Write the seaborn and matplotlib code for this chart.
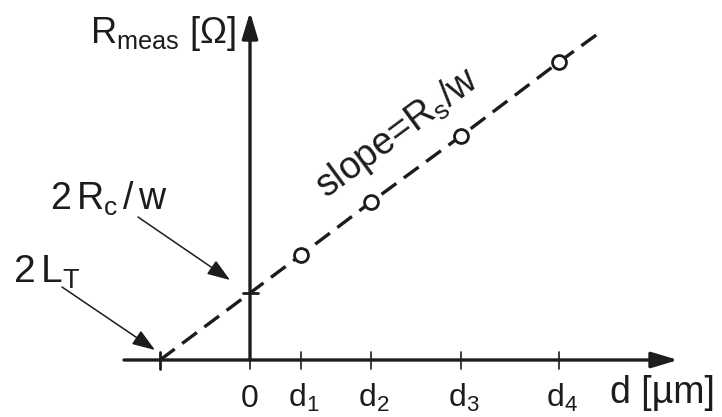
import matplotlib
matplotlib.use("Agg")
import matplotlib.pyplot as plt
import seaborn as sns

# ---- data (arbitrary units) ----
d_pos = [1.02, 2.42, 4.22, 6.18]          # d1..d4
R_meas = [2.1, 3.16, 4.48, 5.96]          # measured resistances
d_labels = ["$d_1$", "$d_2$", "$d_3$", "$d_4$"]
LT2_x = -1.8                               # x-intercept (2 L_T)
Rc2_y = 1.34                               # y-intercept (2 Rc / w)
line_end_x = 6.98
line_end_y = 6.54

sns.set_style("white")
plt.rcParams["font.family"] = ["Liberation Sans", "DejaVu Sans"]
plt.rcParams["mathtext.fontset"] = "custom"
plt.rcParams["mathtext.rm"] = "Liberation Sans"
plt.rcParams["mathtext.it"] = "Liberation Sans"
plt.rcParams["mathtext.default"] = "regular"

INK = "#1c1c1c"

fig = plt.figure(figsize=(7.22, 4.17), dpi=100)
ax = fig.add_axes([0, 0, 1, 1])
ax.set_xlim(-5, 9.44)
ax.set_ylim(-1.14, 7.2)
ax.axis("off")

# dashed fit line
line_x = [LT2_x, 0] + d_pos + [line_end_x]
line_y = [0, Rc2_y] + R_meas + [line_end_y]
sns.lineplot(x=line_x, y=line_y, ax=ax, color=INK, lw=2.4,
             linestyle=(0, (5.5, 2.8)), zorder=2)

# measured points
sns.scatterplot(x=d_pos, y=R_meas, ax=ax, s=100, facecolor="white",
                edgecolor=INK, linewidth=2.0, zorder=4)

# axes with arrows
axis_arrow = dict(arrowstyle="-|>,head_length=0.8,head_width=0.24",
                  mutation_scale=20, lw=2.4, color=INK,
                  shrinkA=0, shrinkB=0)
ax.annotate("", xy=(8.56, 0), xytext=(-2.52, 0), arrowprops=axis_arrow, zorder=3)
ax.annotate("", xy=(0, 6.96), xytext=(0, 0), arrowprops=axis_arrow, zorder=3)

# tick marks
for x in d_pos + [0]:
    ax.plot([x, x], [-0.18, 0.16], color=INK, lw=1.2, zorder=3)
ax.plot([LT2_x, LT2_x], [-0.18, 0.16], color=INK, lw=2.0, zorder=3)
ax.plot([-0.15, 0.16], [Rc2_y, Rc2_y], color=INK, lw=2.0, zorder=3)

# tick labels
ax.text(0, -0.94, "0", ha="center", va="baseline", fontsize=23, color=INK)
for x, lab in zip(d_pos, d_labels):
    ax.text(x + 0.05, -0.94, lab, ha="center", va="baseline", fontsize=23, color=INK)

# axis titles
ax.text(-0.28, 6.34, r"R$_{meas}$ [Ω]", ha="right", va="baseline",
        fontsize=26, color=INK)
ax.text(7.2, -0.86, "d [µm]", ha="left", va="baseline", fontsize=27, color=INK)

# slope label
ax.text(2.96, 4.52, r"slope=R$_s$/w", rotation=36.5, rotation_mode="anchor",
        ha="center", va="center", fontsize=27, color=INK)

# annotations
ann_arrow = dict(arrowstyle="-|>,head_length=0.7,head_width=0.25",
                 mutation_scale=20, lw=1.1, color=INK, shrinkA=0, shrinkB=0)
ax.text(-4.0, 3.0, r"2$\,$R$_c$$\,$/$\,$w", ha="left", va="baseline",
        fontsize=27, color=INK)
ax.annotate("", xy=(-0.4, 1.6), xytext=(-2.24, 2.86), arrowprops=ann_arrow)
ax.text(-4.74, 1.54, r"2$\,$L$_T$", ha="left", va="baseline",
        fontsize=28, color=INK)
ax.annotate("", xy=(-1.9, 0.2), xytext=(-3.76, 1.46), arrowprops=ann_arrow)

fig.savefig("out.png", dpi=100, facecolor="white")
